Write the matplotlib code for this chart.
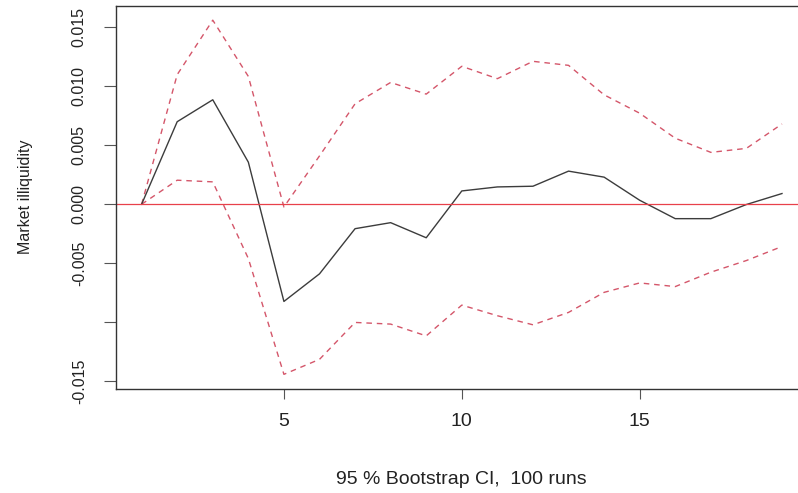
import matplotlib
matplotlib.use("Agg")
import matplotlib.pyplot as plt
import numpy as np

plt.rcParams["font.family"] = ["Liberation Sans", "DejaVu Sans"]

steps = np.arange(1, 20)
irf = [0.0, 0.0070, 0.00886, 0.00357, -0.00824, -0.0059, -0.00207, -0.00156,
       -0.00284, 0.00113, 0.00147, 0.00153, 0.00281, 0.0023, 0.00034,
       -0.00122, -0.00122, -0.00002, 0.00091]
upper = [0.0, 0.01099, 0.01561, 0.01084, -0.00023, 0.00410, 0.00852, 0.01033,
         0.00934, 0.0117, 0.01065, 0.01212, 0.01178, 0.00928, 0.00772,
         0.0056, 0.0044, 0.00474, 0.00681]
lower = [0.0, 0.00204, 0.0019, -0.0046, -0.01442, -0.01315, -0.01002, -0.01016,
         -0.01116, -0.00855, -0.00945, -0.01022, -0.00917, -0.00747, -0.00667,
         -0.00698, -0.00576, -0.00477, -0.00358]
yticks = [-0.015, -0.010, -0.005, 0.000, 0.005, 0.010, 0.015]
ytick_labels = ["-0.015", "", "-0.005", "0.000", "0.005", "0.010", "0.015"]
xticks = [5, 10, 15]

fig = plt.figure(figsize=(7.98, 4.93), dpi=100)
ax = fig.add_axes([116 / 798, 1 - 388.5 / 493, (807.6 - 116) / 798, (388.5 - 6) / 493])

red_dash = "#d4566a"
ax.plot(steps, upper, color=red_dash, lw=1.0, dashes=(4, 3.5))
ax.plot(steps, lower, color=red_dash, lw=1.0, dashes=(4, 3.5))
ax.plot(steps, irf, color="#3c3c3c", lw=1.0)
ax.margins(0.04)
ax.axhline(0, color="#e8404a", lw=0.9)

ax.set_xticks(xticks)
ax.set_xticklabels([str(t) for t in xticks], fontsize=14, color="#222222")
ax.set_yticks(yticks)
ax.set_yticklabels(ytick_labels, fontsize=11.5, color="#222222",
                   rotation=90, va="center")
ax.tick_params(axis="x", length=7.5, width=0.8, color="#555555", pad=10)
ax.tick_params(axis="y", length=9, width=0.8, color="#555555", pad=12)

for s in ax.spines.values():
    s.set_color("#333333")
    s.set_linewidth(1.0)

ax.set_xlabel("95 % Bootstrap CI,  100 runs", fontsize=14, color="#222222",
              labelpad=30)
ax.set_ylabel("Market illiquidity", fontsize=11.5, color="#222222", labelpad=28)

fig.savefig("out.png", dpi=100)
